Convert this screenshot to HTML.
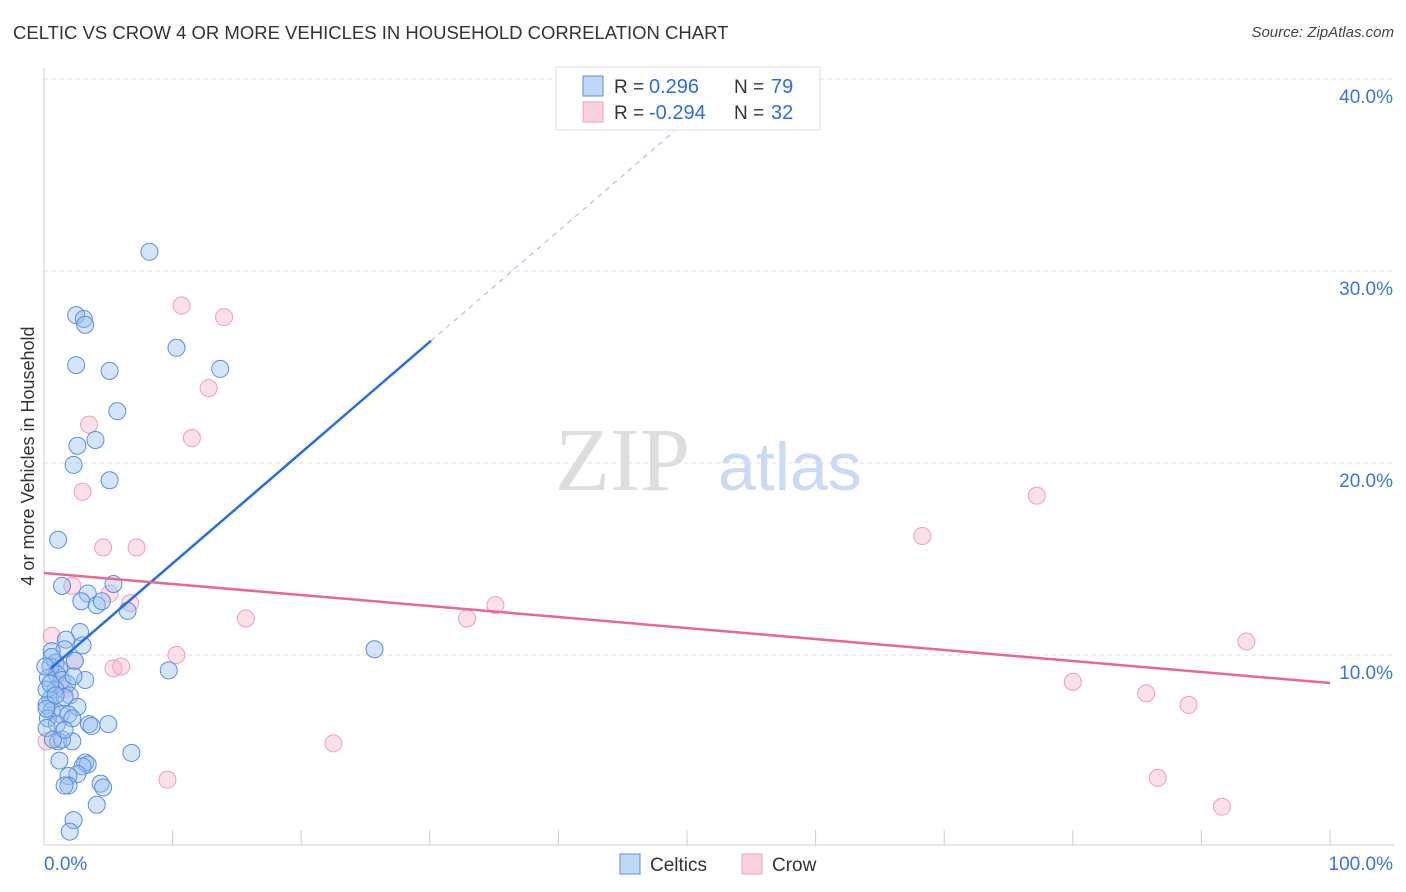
<!DOCTYPE html>
<html><head><meta charset="utf-8"><style>
body{margin:0;background:#fff;font-family:"Liberation Sans",sans-serif;}
#wrap{position:relative;width:1406px;height:892px;overflow:hidden}
.t{position:absolute;white-space:nowrap}
</style></head><body><div id="wrap">
<div class="t" style="left:13px;top:22px;font-size:18.5px;color:#333">CELTIC VS CROW 4 OR MORE VEHICLES IN HOUSEHOLD CORRELATION CHART</div>
<div class="t" style="right:12px;top:24px;font-size:15px;color:#444;font-style:italic">Source: ZipAtlas.com</div>
<svg id="svg" width="1406" height="892" style="position:absolute;left:0;top:0"></svg>
</div>
<script>
const blueX=[8.2,2.5,3.1,3.2,10.3,2.5,5.1,13.7,5.7,4.0,2.6,2.3,5.1,1.1,1.4,5.4,3.4,2.9,4.1,4.5,6.5,2.8,1.7,3.0,1.6,0.6,25.7,9.7,0.9,1.2,0.5,1.0,0.3,1.4,3.2,1.8,0.9,2.3,2.0,0.5,1.6,0.2,2.6,0.6,1.3,1.9,0.3,2.2,1.0,3.5,3.7,5.0,1.1,2.2,1.4,6.8,3.2,3.4,3.0,2.6,1.9,1.9,1.6,4.4,4.6,4.1,2.3,2.0,0.2,0.2,0.2,0.5,0.9,0.6,0.1,1.2,0.7,1.6,2.4];
const blueY=[31.0,27.7,27.5,27.2,26.0,25.1,24.8,24.9,22.7,21.2,20.9,19.9,19.1,16.0,13.6,13.7,13.2,12.8,12.6,12.8,12.3,11.2,10.8,10.5,10.3,10.2,10.3,9.2,9.6,9.3,9.4,9.0,8.8,8.7,8.7,8.5,8.2,8.9,7.9,7.7,7.8,7.4,7.3,7.1,6.9,6.9,6.7,6.7,6.4,6.4,6.3,6.4,5.5,5.5,5.6,4.9,4.4,4.3,4.2,3.8,3.7,3.2,3.2,3.3,3.1,2.2,1.4,0.8,8.2,7.2,6.2,8.5,7.9,9.9,9.4,4.5,5.6,6.1,9.7];
const pinkX=[10.7,14.0,12.8,11.5,3.5,3.0,4.6,7.2,2.2,5.1,6.7,15.7,0.6,10.3,2.4,5.4,6.0,22.5,9.6,35.1,32.9,68.3,77.2,93.5,80.0,85.7,89.0,86.6,91.6,0.2,1.6,1.2];
const pinkY=[28.2,27.6,23.9,21.3,22.0,18.5,15.6,15.6,13.6,13.2,12.7,11.9,11.0,10.0,9.7,9.3,9.4,5.4,3.5,12.6,11.9,16.2,18.3,10.7,8.6,8.0,7.4,3.6,2.1,5.5,8.2,9.2];
const blueFit=[9.0,0.577], blueSolidEnd=30.1, blueDashEnd=49, pinkFit=[14.27,-0.0573];
const yTicks=[10,20,30,40], xTickLabels=["0.0%","100.0%"];
const X=v=>44+v*12.86, Y=v=>847-v*19.2;
const svg=document.getElementById('svg'),NS='http://www.w3.org/2000/svg';
function el(tag,a,name,parent){const e=document.createElementNS(NS,tag);for(const k in a)e.setAttribute(k,a[k]);


(parent||svg).appendChild(e);return e;}
let wm=el('text',{x:555,y:490,'font-size':90,'font-family':'Liberation Serif',fill:'#ddd'},'watermark-zip');wm.textContent='ZIP';
let wm2=el('text',{x:718,y:490,'font-size':68,'font-family':'Liberation Sans',fill:'#c9daf2'},'watermark-atlas');wm2.textContent='atlas';
yTicks.forEach(t=>{el('line',{x1:44,x2:1394,y1:Y(t),y2:Y(t),stroke:'#ddd','stroke-dasharray':'4,4'},'gridline');
let tx=el('text',{x:1393,y:Y(t)+24,'text-anchor':'end','font-size':19,fill:'#3b74d6'},'y-tick-label');tx.textContent=t.toFixed(1)+'%';});
el('line',{x1:44,x2:44,y1:68,y2:845,stroke:'#ccc'},'y-axis-line');
el('line',{x1:44,x2:1394,y1:845,y2:845,stroke:'#ccc'},'x-axis-line');
for(let i=0;i<=10;i++)el('line',{x1:X(i*10),x2:X(i*10),y1:830,y2:845,stroke:'#ccc'},'x-tick');
let l0=el('text',{x:44,y:870,'font-size':19,fill:'#3b74d6'},'x-tick-label');l0.textContent=xTickLabels[0];
let l1=el('text',{x:1393,y:870,'text-anchor':'end','font-size':19,fill:'#3b74d6'},'x-tick-label');l1.textContent=xTickLabels[1];
let yt=el('text',{x:34,y:456,'font-size':18,fill:'#333','text-anchor':'middle',transform:'rotate(-90 34 456)'},'y-axis-title');yt.textContent='4 or more Vehicles in Household';
pinkX.forEach((x,i)=>el('circle',{cx:X(x),cy:Y(pinkY[i]),r:8.5,fill:'rgba(246,178,200,0.4)',stroke:'#eca0b9','stroke-width':1},'crow-point'));
blueX.forEach((x,i)=>el('circle',{cx:X(x),cy:Y(blueY[i]),r:8.5,fill:'rgba(150,190,240,0.4)',stroke:'#5a8fde','stroke-width':1},'celtics-point'));
el('line',{x1:X(0.5),y1:Y(blueFit[0]+blueFit[1]*0.5),x2:X(blueSolidEnd),y2:Y(blueFit[0]+blueFit[1]*blueSolidEnd),stroke:'#2a6fd6','stroke-width':2.5},'celtics-trendline');
el('line',{x1:X(blueSolidEnd),y1:Y(blueFit[0]+blueFit[1]*blueSolidEnd),x2:X(blueDashEnd),y2:Y(blueFit[0]+blueFit[1]*blueDashEnd),stroke:'#a9c3ea','stroke-width':1.2,'stroke-dasharray':'5,5'},'celtics-trendline-extension');
el('line',{x1:X(0),y1:Y(pinkFit[0]),x2:X(100),y2:Y(pinkFit[0]+pinkFit[1]*100),stroke:'#e8688f','stroke-width':2.5},'crow-trendline');
const g=el('g',{},'legend');
el('rect',{x:556,y:67,width:264,height:63,fill:'#fff',stroke:'#ddd'},'legend-box',g);
[[78,'rgba(150,190,240,0.6)','#5a8fde',' 0.296','79','celtics'],[104,'rgba(246,178,200,0.6)','#eca0b9','-0.294','32','crow']].forEach(r=>{
el('rect',{x:583,y:r[0]-2,width:20,height:20,fill:r[1],stroke:r[2]},'legend-swatch-'+r[5],g);
let a=el('text',{x:614,y:r[0]+15,'font-size':19,fill:'#333'},'legend-r-label',g);a.textContent='R =';
let b=el('text',{x:649,y:r[0]+15,'font-size':20,fill:'#2a6fd6','xml:space':'preserve'},'legend-r-value',g);b.textContent=r[3];
let c=el('text',{x:734,y:r[0]+15,'font-size':19,fill:'#333'},'legend-n-label',g);c.textContent='N =';
let d=el('text',{x:771,y:r[0]+15,'font-size':20,fill:'#2a6fd6'},'legend-n-value',g);d.textContent=r[4];});
[[620,'rgba(150,190,240,0.6)','#5a8fde','Celtics'],[742,'rgba(246,178,200,0.6)','#eca0b9','Crow']].forEach(r=>{
el('rect',{x:r[0],y:854,width:20,height:20,fill:r[1],stroke:r[2]},'bottom-legend-swatch');
let t=el('text',{x:r[0]+30,y:871,'font-size':19,fill:'#333'},'bottom-legend-label');t.textContent=r[3];});
</script></body></html>
